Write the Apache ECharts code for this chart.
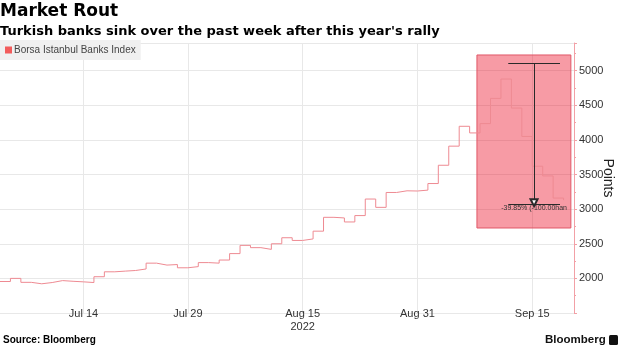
<!DOCTYPE html>
<html>
<head>
<meta charset="utf-8">
<script src="https://cdn.jsdelivr.net/npm/echarts@6/dist/echarts.min.js"></script>
<style>
html,body{margin:0;padding:0;background:#fff;}
#chart{width:620px;height:348px;}
</style>
</head>
<body>
<div id="chart"></div>
<script>
// Trading days (category axis); the last entry is an empty slot at the right edge
const dates = ['Jun 30','Jul 1','Jul 4','Jul 5','Jul 6','Jul 7','Jul 8','Jul 13','Jul 14',
  'Jul 18','Jul 19','Jul 20','Jul 21','Jul 22','Jul 25','Jul 26','Jul 27','Jul 28','Jul 29',
  'Aug 1','Aug 2','Aug 3','Aug 4','Aug 5','Aug 8','Aug 9','Aug 10','Aug 11','Aug 12',
  'Aug 15','Aug 16','Aug 17','Aug 18','Aug 19','Aug 22','Aug 23','Aug 24','Aug 25','Aug 26',
  'Aug 29','Aug 31','Sep 1','Sep 2','Sep 5','Sep 6','Sep 7','Sep 8','Sep 9',
  'Sep 12','Sep 13','Sep 14','Sep 15','Sep 16','Sep 19','Sep 20','Sep 21'];
// Borsa Istanbul Banks Index (points)
const bankIndex = [1955,2000,1943,1922,1940,1968,1958,1950,1940,
  2024,2095,2105,2114,2136,2220,2192,2200,2153,2170,
  2228,2220,2265,2358,2477,2444,2419,2500,2587,2548,
  2570,2682,2882,2873,2815,2907,3146,3026,3241,3265,
  3262,3275,3370,3634,3910,4197,4101,4236,
  4600,4880,4460,4050,3620,3480,3160,3130];
const tickLabels = ['Jul 14','Jul 29','Aug 15','Aug 31','Sep 15'];
const yearLabel = {'Aug 15':'2022'};
const yTicks = [1500,5400,500]; // min, max, interval
// Highlight box and measure annotation (x in trading-day index, y in points)
const boxX = [45.7, 54.7];
const boxY = [5227, 2728];
const measureX = [48.7, 51.17, 53.66];
const measureY = [5110, 3074];
const measureText = '-39.85% (-100.00han';
const seriesName = 'Borsa Istanbul Banks Index';

const FONT = 'Liberation Sans, Arial, sans-serif';
const HEAD = 'DejaVu Sans, Liberation Sans, sans-serif';
const chart = echarts.init(document.getElementById('chart'), null, {renderer:'canvas'});
const showTick = (i, v) => tickLabels.indexOf(v) >= 0;

chart.setOption({
  animation:false,
  backgroundColor:'#fff',
  textStyle:{fontFamily:FONT},
  title:[
    {text:'Market Rout', left:0, top:3, padding:0,
     textStyle:{fontSize:17, fontWeight:'bold', color:'#000', fontFamily:HEAD}},
    {text:"Turkish banks sink over the past week after this year's rally", left:0, top:25, padding:0,
     textStyle:{fontSize:13, fontWeight:'bold', color:'#000', fontFamily:HEAD}}
  ],
  legend:{
    data:[seriesName], left:0, top:40, icon:'rect', itemWidth:7, itemHeight:7,
    backgroundColor:'#f0f0f0', padding:[5,5,5,5], itemGap:4,
    textStyle:{fontSize:10, color:'#444', fontFamily:FONT, padding:[0,0,0,-3]},
    selectedMode:false
  },
  grid:{left:0, right:46, top:43, bottom:35, containLabel:false, outerBoundsMode:'none'},
  xAxis:[{
    type:'category', data:dates, boundaryGap:false,
    axisLine:{show:false}, axisTick:{show:false, interval:showTick},
    axisLabel:{interval:showTick, fontSize:11, color:'#333', margin:-6, lineHeight:13,
      formatter:(v)=> yearLabel[v] ? v + '\n' + yearLabel[v] : v},
    splitLine:{show:true, interval:showTick, lineStyle:{color:'#e8e8e8', width:1}}
  },{
    type:'value', min:0, max:dates.length-1, show:false
  }],
  yAxis:{
    type:'value', position:'right', min:yTicks[0], max:yTicks[1], interval:yTicks[2],
    name:'Points', nameLocation:'middle', nameRotate:-90, nameGap:27, nameMoveOverlap:false,
    nameTextStyle:{fontSize:14, color:'#222', fontFamily:FONT},
    axisLine:{show:true, onZero:false, lineStyle:{color:'#f2a0a6', width:1}},
    axisTick:{show:true, length:3, lineStyle:{color:'#f2a0a6'}},
    minorTick:{show:true, splitNumber:2, length:2, lineStyle:{color:'#f2a0a6'}},
    axisLabel:{fontSize:11, color:'#333', margin:5, showMinLabel:false, showMaxLabel:false,
      formatter:(v)=> String(v)},
    splitLine:{show:true, lineStyle:{color:'#e8e8e8', width:1}}
  },
  series:[{
    name:seriesName, type:'line', data:bankIndex, step:'end', showSymbol:false, z:2,
    lineStyle:{color:'#ee8a92', width:1}, itemStyle:{color:'#f25c5c'}
  },{
    name:'annotation', type:'line', xAxisIndex:1, data:[], z:5, silent:true,
    markArea:{silent:true,
      itemStyle:{color:'rgba(235,5,30,0.4)', borderColor:'#e05868', borderWidth:1},
      data:[[{coord:[boxX[0], boxY[0]]},{coord:[boxX[1], boxY[1]]}]]},
    markLine:{silent:true, symbol:['none','none'], animation:false,
      lineStyle:{color:'#2a2a2a', width:1, type:'solid'},
      label:{show:false},
      data:[
        [{coord:[measureX[0], measureY[0]]},{coord:[measureX[2], measureY[0]]}],
        [{coord:[measureX[1], measureY[0]], symbol:'none'},
         {coord:[measureX[1], measureY[1]+20], symbol:'emptyTriangle', symbolSize:[7,7]}],
        [{coord:[measureX[0], measureY[1]]},{coord:[measureX[2], measureY[1]],
          label:{show:true, formatter:measureText, position:'insideMiddleBottom', distance:1,
            fontSize:7, color:'#333', fontFamily:FONT}}]
      ]}
  }],
  graphic:[
    {type:'text', left:3, top:335, style:{text:'Source: Bloomberg', fontSize:10, fontWeight:'bold', fill:'#000', fontFamily:FONT}},
    {type:'text', left:545, top:334, style:{text:'Bloomberg', fontSize:11.5, fontWeight:'bold', fill:'#111', fontFamily:FONT}},
    {type:'rect', left:609, top:335, shape:{width:9, height:10, r:1.5}, style:{fill:'#111'}}
  ]
});
</script>
</body>
</html>
